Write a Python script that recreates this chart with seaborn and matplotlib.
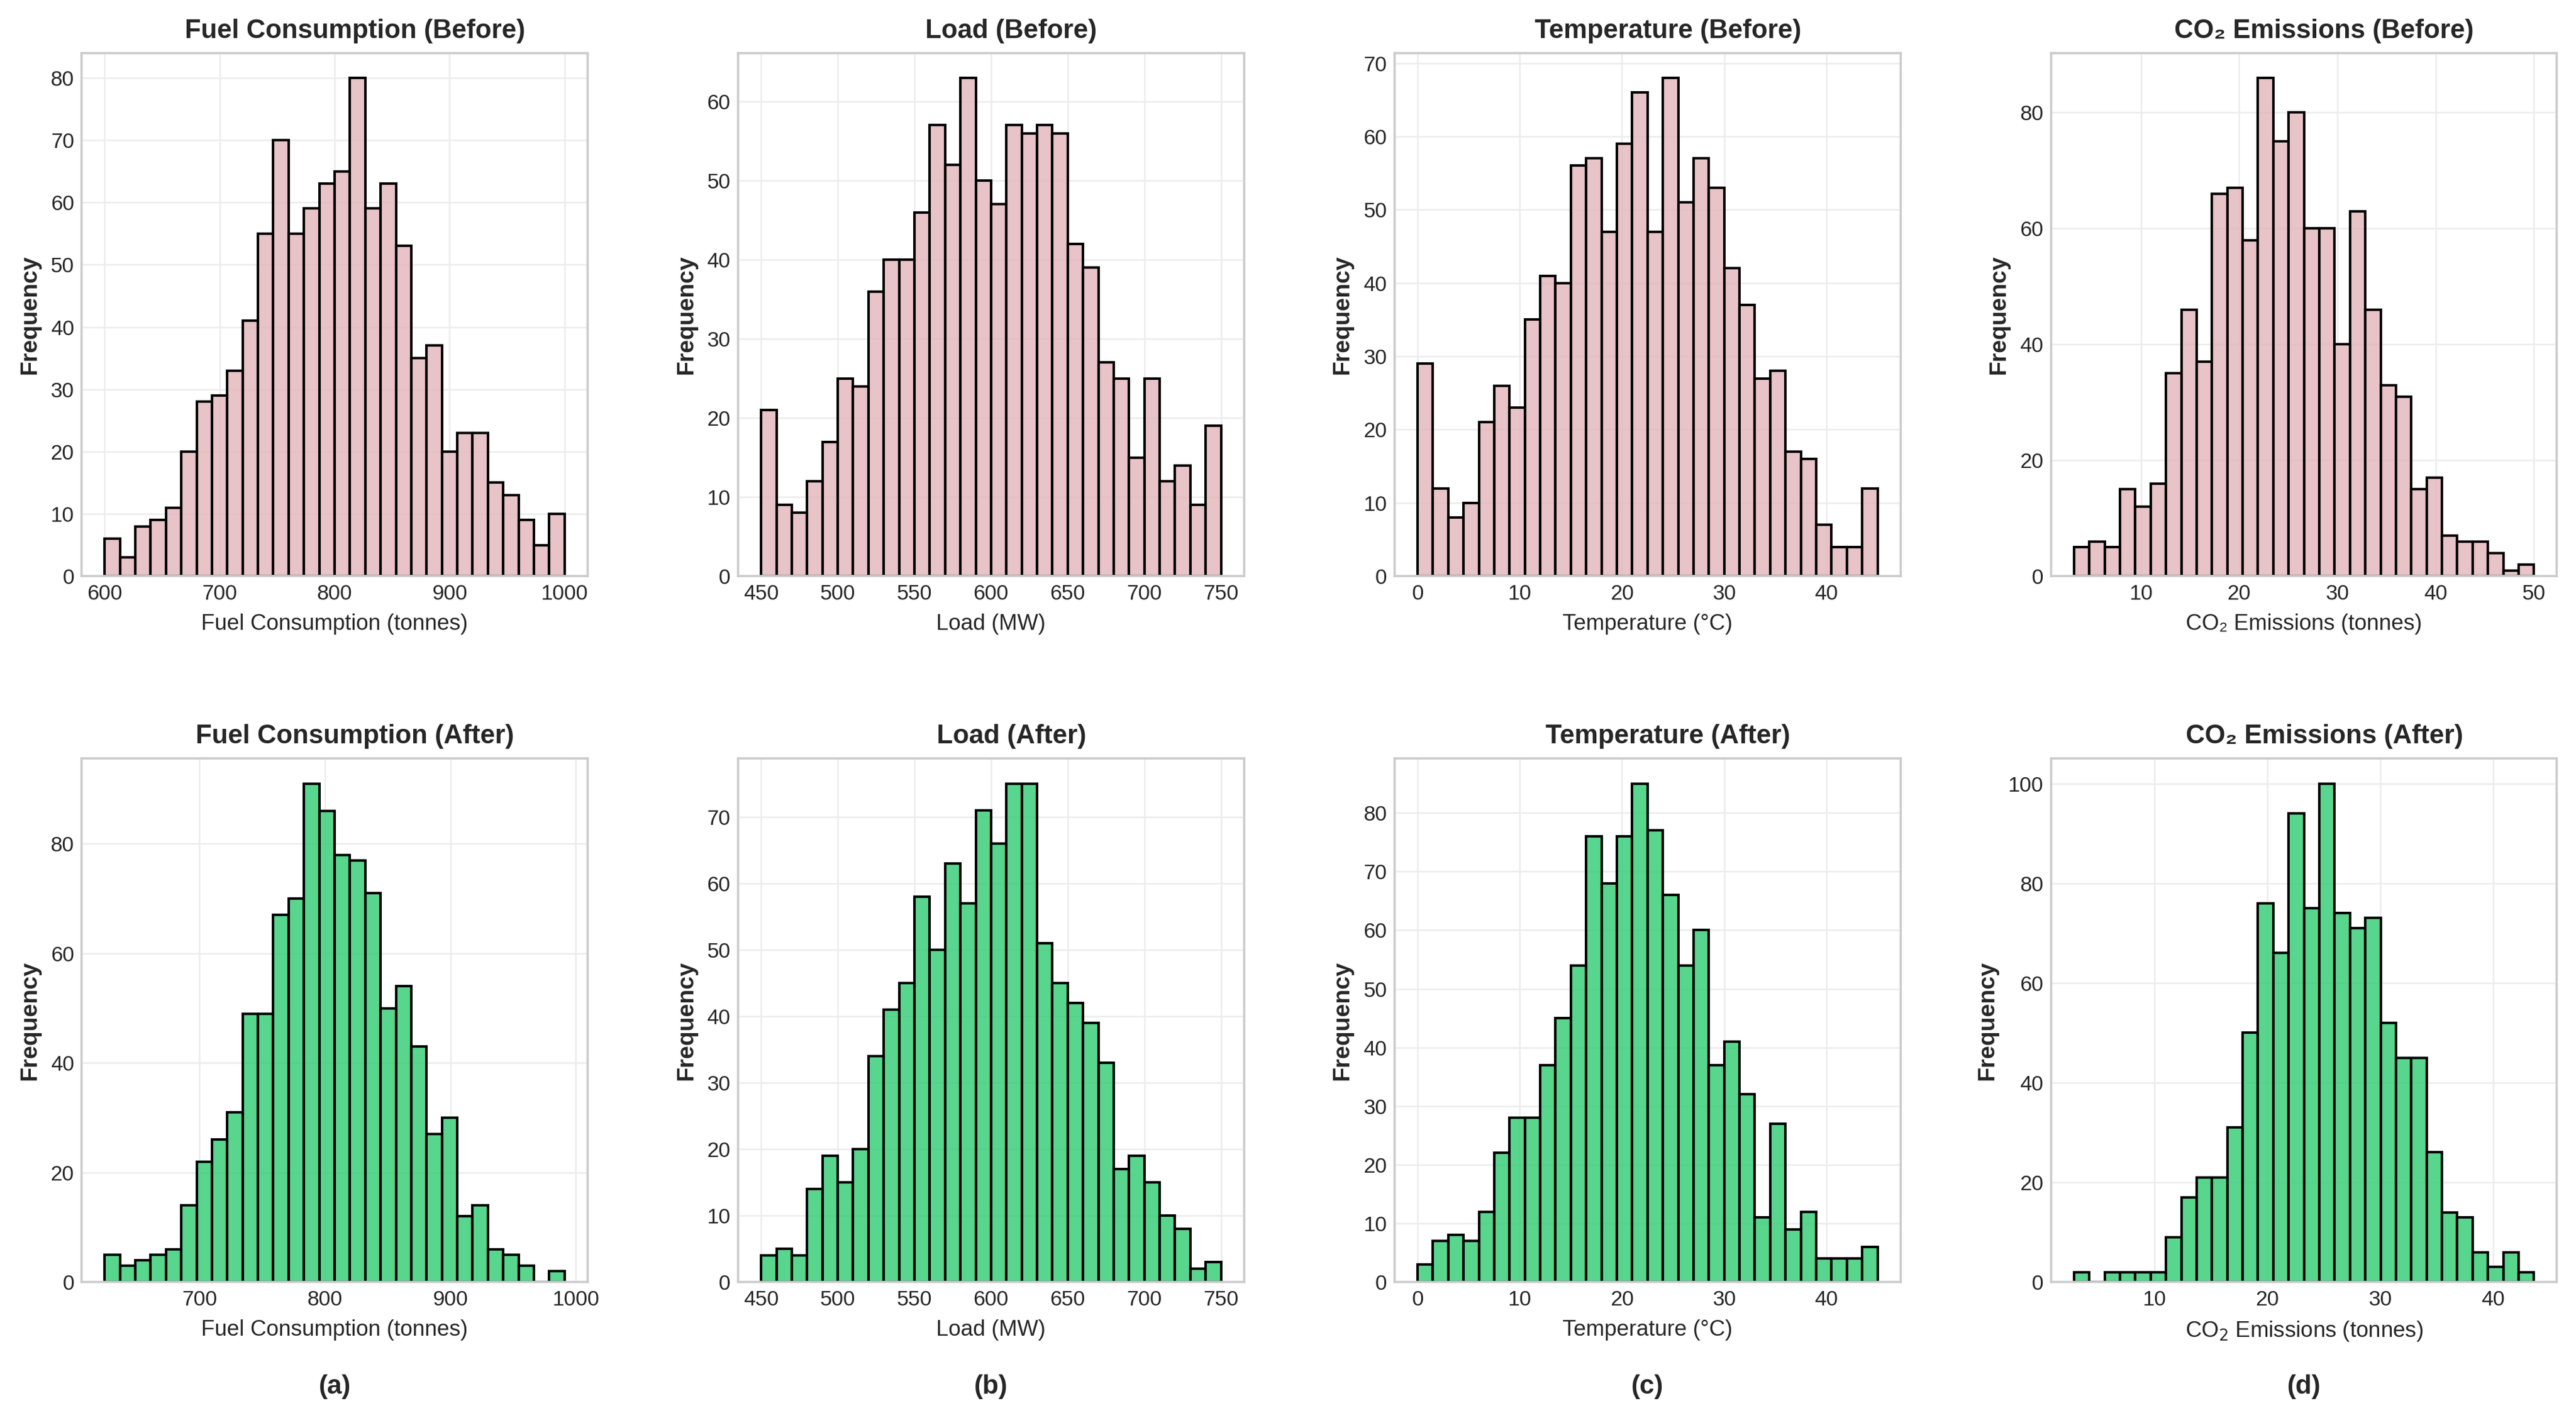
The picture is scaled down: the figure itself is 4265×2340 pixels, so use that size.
import numpy as np
import seaborn as sns
import matplotlib.pyplot as plt

# bin counts (30 bins each)
fuel_before = [6, 3, 8, 9, 11, 20, 28, 29, 33, 41, 55, 70, 55, 59, 63, 65, 80, 59, 63, 53, 35, 37, 20, 23, 23, 15, 13, 9, 5, 10]
load_before = [21, 9, 8, 12, 17, 25, 24, 36, 40, 40, 46, 57, 52, 63, 50, 47, 57, 56, 57, 56, 42, 39, 27, 25, 15, 25, 12, 14, 9, 19]
temp_before = [29, 12, 8, 10, 21, 26, 23, 35, 41, 40, 56, 57, 47, 59, 66, 47, 68, 51, 57, 53, 42, 37, 27, 28, 17, 16, 7, 4, 4, 12]
co2_before = [5, 6, 5, 15, 12, 16, 35, 46, 37, 66, 67, 58, 86, 75, 80, 60, 60, 40, 63, 46, 33, 31, 15, 17, 7, 6, 6, 4, 1, 2]

fuel_after = [5, 3, 4, 5, 6, 14, 22, 26, 31, 49, 49, 67, 70, 91, 86, 78, 77, 71, 50, 54, 43, 27, 30, 12, 14, 6, 5, 3, 0, 2]
load_after = [4, 5, 4, 14, 19, 15, 20, 34, 41, 45, 58, 50, 63, 57, 71, 66, 75, 75, 51, 45, 42, 39, 33, 17, 19, 15, 10, 8, 2, 3]
temp_after = [3, 7, 8, 7, 12, 22, 28, 28, 37, 45, 54, 76, 68, 76, 85, 77, 66, 54, 60, 37, 41, 32, 11, 27, 9, 12, 4, 4, 4, 6]
co2_after = [2, 0, 2, 2, 2, 2, 9, 17, 21, 21, 31, 50, 76, 66, 94, 75, 100, 74, 71, 73, 52, 45, 45, 26, 14, 13, 6, 3, 6, 2]

# value range covered by the bins (min, max)
fuel_before_range = (600, 1000)
load_before_range = (450, 750)
temp_before_range = (0, 45)
co2_before_range = (3.2, 50.0)
fuel_after_range = (624.3, 991.1)
load_after_range = (450, 750)
temp_after_range = (0, 45)
co2_after_range = (2.9, 43.6)

titles = ['Fuel Consumption', 'Load', 'Temperature', 'CO\u2082 Emissions']
xlabels_before = ['Fuel Consumption (tonnes)', 'Load (MW)', 'Temperature (\u00b0C)', 'CO\u2082 Emissions (tonnes)']
xlabels_after = ['Fuel Consumption (tonnes)', 'Load (MW)', 'Temperature (\u00b0C)', 'CO$_2$ Emissions (tonnes)']
panel_labels = ['(a)', '(b)', '(c)', '(d)']

before = [(fuel_before, fuel_before_range), (load_before, load_before_range),
          (temp_before, temp_before_range), (co2_before, co2_before_range)]
after = [(fuel_after, fuel_after_range), (load_after, load_after_range),
         (temp_after, temp_after_range), (co2_after, co2_after_range)]

sns.set_style('whitegrid')
plt.rcParams['font.family'] = ['Liberation Sans', 'DejaVu Sans']
plt.rcParams['axes.edgecolor'] = '#cccccc'
plt.rcParams['axes.linewidth'] = 0.9
plt.rcParams['grid.color'] = '#ececec'
plt.rcParams['grid.linewidth'] = 0.6
plt.rcParams['text.color'] = '#262626'
plt.rcParams['xtick.color'] = '#262626'
plt.rcParams['ytick.color'] = '#262626'

fig, axes = plt.subplots(2, 4, figsize=(4265 / 300, 2340 / 300), dpi=300)
plt.subplots_adjust(left=0.0317, right=0.9926, bottom=0.0927, top=0.9626, wspace=0.2975, hspace=0.3485)


def draw(ax, counts, rng, color, title, xlabel):
    edges = np.linspace(rng[0], rng[1], len(counts) + 1)
    centers = (edges[:-1] + edges[1:]) / 2
    sns.histplot(x=centers, weights=counts, bins=edges.tolist(), color=color, edgecolor='black',
                 linewidth=1.0, alpha=0.8, ax=ax)
    ax.set_title(title, fontsize=10.5, fontweight='bold', x=0.54)
    ax.set_xlabel(xlabel, fontsize=8.8)
    ax.set_ylabel('Frequency', fontsize=9.4, fontweight='bold')
    ax.tick_params(labelsize=8.4, length=0, pad=3)
    ax.grid(True)


for i in range(4):
    counts, rng = before[i]
    draw(axes[0, i], counts, rng, '#e3b4ba', titles[i] + ' (Before)', xlabels_before[i])
    counts, rng = after[i]
    draw(axes[1, i], counts, rng, '#2ecc71', titles[i] + ' (After)', xlabels_after[i])
    axes[1, i].text(0.5, -0.2, panel_labels[i], transform=axes[1, i].transAxes,
                    ha='center', va='center', fontsize=10.5, fontweight='bold')

fig.savefig('out.png', dpi=300)
